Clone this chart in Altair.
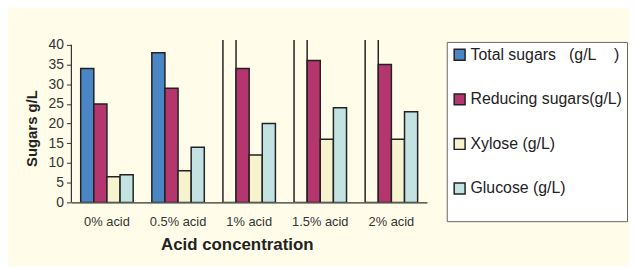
import altair as alt
import pandas as pd

categories = ["0% acid", "0.5% acid", "1% acid", "1.5% acid", "2% acid"]
series = [
    "Total sugars\u00a0\u00a0\u00a0(g/L\u00a0\u00a0\u00a0\u00a0)",
    "Reducing sugars(g/L)",
    "Xylose (g/L)",
    "Glucose (g/L)",
]
total_sugars = [34, 38, 45, 45, 45]  # last three run off the top of the plot
reducing_sugars = [25, 29, 34, 36, 35]
xylose = [6.5, 8, 12, 16, 16]
glucose = [7, 14, 20, 24, 23]
colors = ["#4a86c6", "#b5366f", "#f8f3cf", "#c3e3e3"]
y_ticks = [0, 5, 10, 15, 20, 25, 30, 35, 40]

BG = "#fffde9"
FONT = "Liberation Sans"

rows = []
for s, vals in zip(series, [total_sugars, reducing_sugars, xylose, glucose]):
    for c, v in zip(categories, vals):
        rows.append({"acid": c, "series": s, "value": v})
df = pd.DataFrame(rows)

y_scale = alt.Scale(domain=[0, 41.25], nice=False)
y_axis = alt.Axis(
    values=y_ticks,
    domain=False,
    grid=False,
    tickSize=5,
    tickColor="#333333",
    labelPadding=3,
    labelFontSize=14,
    labelColor="#333333",
    labelOverlap=False,
    title="Sugars g/L",
    titleFontSize=15,
    titleFontWeight="bold",
    titleColor="#222222",
    titleAngle=-90,
    titleX=-40,
    titleY=89,
    titleAlign="center",
    titleBaseline="middle",
)

bars = alt.Chart(df).mark_bar(stroke="#222222", strokeWidth=1.5, clip=True).encode(
    x=alt.X(
        "acid:N",
        sort=categories,
        scale=alt.Scale(paddingInner=0.262, paddingOuter=0.131),
        axis=alt.Axis(
            title="Acid concentration",
            ticks=False,
            labelAngle=0,
            labelPadding=13,
            labelFontSize=13,
            labelColor="#333333",
            domainColor="#333333",
            domainWidth=1.2,
            titleFontSize=17,
            titleFontWeight="bold",
            titleColor="#222222",
            titleX=167,
            titleY=43,
            titleBaseline="middle",
            titleAlign="center",
        ),
    ),
    xOffset=alt.XOffset(
        "series:N", sort=series, scale=alt.Scale(paddingInner=0, paddingOuter=0)
    ),
    y=alt.Y("value:Q", scale=y_scale, axis=y_axis),
    fill=alt.condition(
        alt.datum.value > 40,
        alt.value(BG),
        alt.Color(
            "series:N",
            sort=series,
            scale=alt.Scale(domain=series, range=colors),
            legend=alt.Legend(
                orient="none",
                legendX=379,
                legendY=2,
                fillColor="white",
                strokeColor="#666666",
                padding=5,
                rowPadding=27,
                symbolType="square",
                symbolSize=121,
                symbolStrokeColor="#222222",
                symbolStrokeWidth=1.5,
                labelFontSize=16,
                labelFont=FONT,
                labelColor="#222222",
                labelOffset=3,
                labelLimit=300,
                title=" ",
                titleOrient="bottom",
                titleFontSize=9,
                titlePadding=10,
            ),
        ),
    ),
)

yaxis_line = alt.Chart(pd.DataFrame({"a": [0]})).mark_rule(
    color="#333333", strokeWidth=1.2
).encode(
    x=alt.value(0),
    y=alt.YDatum(0, type="quantitative", scale=y_scale, axis=y_axis),
    y2=alt.Y2Datum(40),
)

chart = (
    alt.layer(bars, yaxis_line)
    .properties(
        width=359,
        height=164,
        autosize=alt.AutoSizeParams(type="none"),
        padding={"left": 64, "top": 31, "right": 204, "bottom": 63},
    )
    .configure(background=BG, font=FONT)
    .configure_view(strokeWidth=0)
)

chart.save("out.html", embed_options={"renderer": "svg", "actions": False})
